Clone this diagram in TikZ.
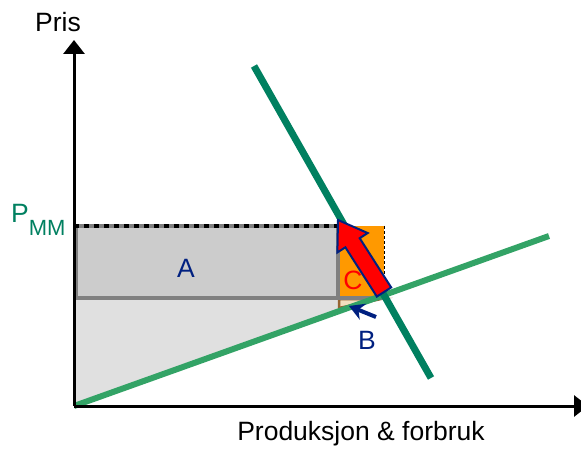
\documentclass[tikz,border=0pt]{standalone}
\usepackage{fontspec}
\setmainfont{Liberation Sans}
\usetikzlibrary{arrows.meta,calc}
\definecolor{demgreen}{RGB}{0,128,96}
\definecolor{supgreen}{RGB}{51,163,102}
\definecolor{areanavy}{RGB}{0,32,128}
\definecolor{midgray}{RGB}{128,128,128}
\definecolor{boxgray}{RGB}{204,204,204}
\definecolor{lowgray}{RGB}{224,224,224}
\definecolor{mmorange}{RGB}{255,153,0}
\definecolor{dwlbrown}{RGB}{150,100,50}
\definecolor{dwlfill}{RGB}{242,222,190}

\begin{document}
\begin{tikzpicture}[x=1pt,y=-1pt,
  every node/.style={font=\fontsize{26.5}{30}\selectfont},
  axis/.style={line width=3pt,-{Triangle[length=14pt,width=21pt]}},
  demand/.style={demgreen,line width=7pt},
  supply/.style={supgreen,line width=6pt},
  edge/.style={midgray,line width=4pt},
  pmm/.style={black,line width=4pt,dash pattern=on 5pt off 5pt},
  bigarrow/.style={draw=areanavy,fill=red,line width=2pt,line join=miter},
  barrow/.style={areanavy,line width=4pt,-{Stealth[length=15pt,width=17pt]}},
  lbl/.style={areanavy}]
\useasboundingbox (0,0) rectangle (581,449);
\coordinate (O) at (74,406);
\coordinate (pm) at (74,226);
\coordinate (pe) at (74,298);
\coordinate (qm) at (338,226);
\coordinate (qe) at (384,298);
% areas
\fill[lowgray] (pe) -- (373,298) -- (O) -- cycle;
\fill[boxgray] (pm) rectangle (338,298);
\fill[mmorange] (qm) rectangle (qe);
\draw[dwlbrown,fill=dwlfill,line width=2.5pt] (339,299) -- (381,299) -- (339,308) -- cycle;
\draw[edge] (76,226) -- (76,298);
\draw[edge] (338,226) -- (338,298);
\draw[edge] (pe) -- (384,298);
\draw[midgray,line width=4pt] (pm) -- (qm);
\draw[pmm] (pm) -- (qm);
\draw[black,line width=1pt,dash pattern=on 3pt off 2pt] (384,226) -- (qe);
% curves
\draw[supply] (O) -- (549,236);
\draw[demand] (254,66) -- (431,378);
% axes
\draw[axis] (O) -- (74,40);
\draw[axis] (O) -- (588,406);
% red arrow
\coordinate (tail) at (384,292);
\coordinate (tip) at (338,220);
\coordinate (hb) at ($(tip)!27pt!(tail)$);
\draw[bigarrow] (tip) -- ($(hb)!18pt!90:(tip)$) -- ($(hb)!8.5pt!90:(tip)$)
  -- ($(tail)!8.5pt!90:(tip)$) -- ($(tail)!8.5pt!-90:(tip)$)
  -- ($(hb)!8.5pt!-90:(tip)$) -- ($(hb)!18pt!-90:(tip)$) -- cycle;
\draw[barrow] (376,317) -- (349,306);
% labels
\node (pris) at (58,22) {Pris};
\node (prod) at (361,434) {Produksjon \& forbruk};
\node[demgreen,anchor=base west,inner sep=0pt] (pmmlbl) at (11,223)
  {P\raisebox{-13pt}{\fontsize{22}{24}\selectfont MM}};
\node[lbl] (A) at (186,268) {A};
\node[red] (C) at (353,280) {C};
\node[lbl] (B) at (367,340) {B};
\end{tikzpicture}
\end{document}
